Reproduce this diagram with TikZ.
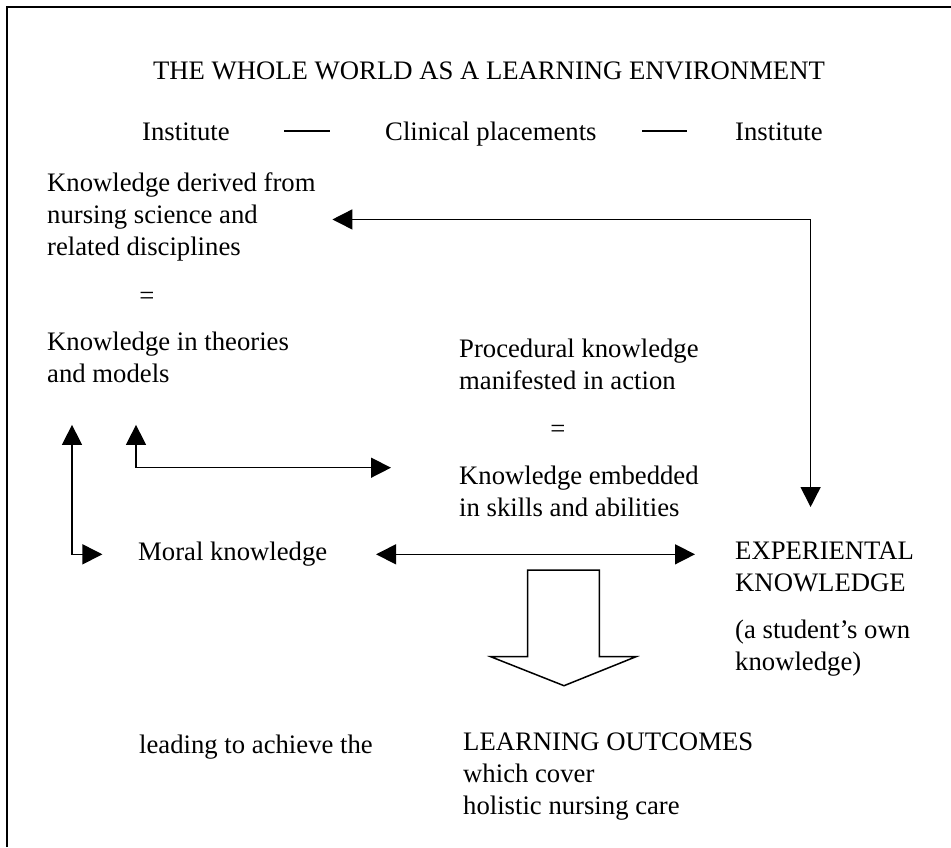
\documentclass[tikz,border=0pt]{standalone}
\usepackage{fontspec}
\setmainfont{Liberation Serif}
\usetikzlibrary{arrows.meta}
\def\ft{\fontsize{26.7}{32}\selectfont}
\tikzset{
  txt/.style={font=\ft, inner sep=0pt, align=left},
  dbl/.style={line width=1.5pt, {Triangle[length=20pt,width=20pt]}-{Triangle[length=20pt,width=20pt]}},
}

\begin{document}
\begin{tikzpicture}[x=1pt,y=-1pt]
      \useasboundingbox (0,0) rectangle (951,847);
      \draw[line width=2pt] (7,847) -- (7,7) -- (951,7);

      \node[txt, anchor=base]       (T)  at (489,79)    {THE WHOLE WORLD AS A LEARNING ENVIRONMENT};
      \node[txt, anchor=base west]  (I1) at (142,140)   {Institute};
      \node[txt, anchor=base west]  (C)  at (385,140)   {Clinical placements};
      \node[txt, anchor=base west]  (I2) at (735,140)   {Institute};
      \node[txt, anchor=north west] (D)  at (47,172.4)  {Knowledge derived from\\nursing science and\\related disciplines};
      \node[txt, anchor=base]       (E1) at (147,304)   {=};
      \node[txt, anchor=north west] (M)  at (47,331.7)  {Knowledge in theories\\and models};
      \node[txt, anchor=north west] (P)  at (459,338.4) {Procedural knowledge\\manifested in action};
      \node[txt, anchor=base]       (E2) at (558,437)   {=};
      \node[txt, anchor=north west] (S)  at (459,465.7) {Knowledge embedded\\in skills and abilities};
      \node[txt, anchor=base west]  (Mo) at (138,560.7) {Moral knowledge};
      \node[txt, anchor=north west] (X)  at (735,541.6) {EXPERIENTAL\\KNOWLEDGE};
      \node[txt, anchor=north west] (O)  at (735,619.5) {(a student's own\\knowledge)};
      \node[txt, anchor=base west]  (L)  at (139,753)   {leading to achieve the};
      \node[txt, anchor=north west] (G)  at (463,732.3) {LEARNING OUTCOMES\\which cover\\holistic nursing care};

      \draw[line width=2pt, shorten <=54.5pt, shorten >=55pt] (I1.east) -- (I1.east -| C.west);
      \draw[line width=2pt, shorten <=45.6pt, shorten >=48pt] (I2.west -| C.east) -- (I2.west);
      \draw[dbl, shorten <=16.6pt, shorten >=34.6pt] ([yshift=-2.6pt]D.east) -| ([xshift=-14pt]X.north);
      \draw[dbl, shorten <=42pt, shorten >=35.6pt] ([xshift=25pt]M.south west) |- (Mo.west);
      \draw[dbl, shorten <=42pt, shorten >=68pt] ([xshift=89pt]M.south west) |- ([yshift=-2pt]S.north west);
      \draw[dbl, shorten <=48.6pt, shorten >=40pt] (Mo.east) -- (Mo.east -| X.west);
      \draw[line width=1.5pt, fill=white] (527.5,570) -- (599.3,570) -- (599.3,656.7) -- (636,656.7)
        -- (564,685.7) -- (490.7,656.7) -- (527.5,656.7) -- cycle;
    \end{tikzpicture}
\end{document}
